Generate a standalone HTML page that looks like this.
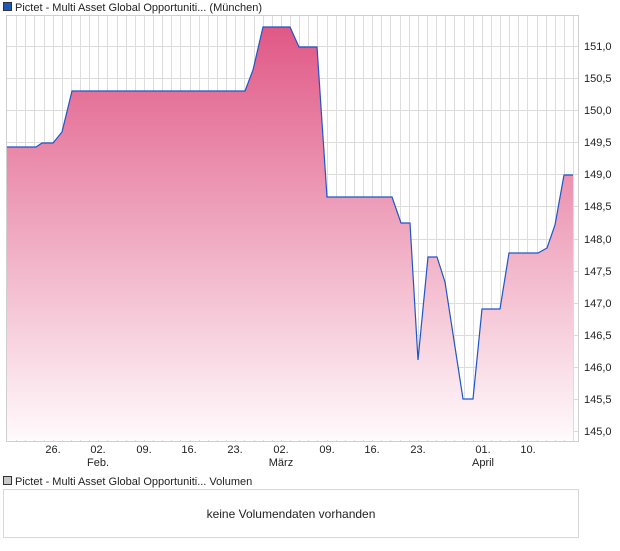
<!DOCTYPE html>
<html><head><meta charset="utf-8"><style>
body{margin:0;background:#fff;width:620px;height:546px;overflow:hidden;font-family:"Liberation Sans",sans-serif;}
</style></head><body>
<svg width="620" height="546" xmlns="http://www.w3.org/2000/svg" font-family="Liberation Sans, sans-serif">
<defs><linearGradient id="g" x1="0" y1="27" x2="0" y2="440" gradientUnits="userSpaceOnUse">
<stop offset="0" stop-color="#e05886"/><stop offset="1" stop-color="#fffafc"/></linearGradient></defs>
<rect x="3.5" y="2.5" width="8" height="8" fill="#1f56b8" stroke="#333" stroke-width="1"/>
<text x="15" y="11" font-size="11" fill="#222">Pictet - Multi Asset Global Opportuniti... (München)</text>
<g id="grid" stroke="#dcdcdc" stroke-width="1"></g>
<path d="M7,147 L36,147 L42,143 L53,143 L62,132 L72,91 L245,91 L253,70 L263,27 L290,27 L299,47 L317,47 L327,197 L392,197 L401,223 L410,223 L418,360 L428,257 L437,257 L445,282 L463,399 L473,399 L482,309 L500,309 L509,253 L538,253 L547,248 L555,225 L564,175 L573,175 L573,440 L7,440 Z" fill="url(#g)"/>
<path d="M7,147 L36,147 L42,143 L53,143 L62,132 L72,91 L245,91 L253,70 L263,27 L290,27 L299,47 L317,47 L327,197 L392,197 L401,223 L410,223 L418,360 L428,257 L437,257 L445,282 L463,399 L473,399 L482,309 L500,309 L509,253 L538,253 L547,248 L555,225 L564,175 L573,175" fill="none" stroke="#1f56c8" stroke-width="1.2"/>
<rect x="6.5" y="15.5" width="572" height="426" fill="none" stroke="#cfcfcf"/>
<g font-size="11" fill="#222">
<text x="584" y="50">151,0</text><text x="584" y="82">150,5</text><text x="584" y="114">150,0</text>
<text x="584" y="146">149,5</text><text x="584" y="178">149,0</text><text x="584" y="210">148,5</text>
<text x="584" y="243">148,0</text><text x="584" y="275">147,5</text><text x="584" y="307">147,0</text>
<text x="584" y="339">146,5</text><text x="584" y="371">146,0</text><text x="584" y="403">145,5</text>
<text x="584" y="435">145,0</text>
</g>
<g font-size="11" fill="#222" text-anchor="middle">
<text x="53" y="453">26.</text><text x="98" y="453">02.</text><text x="144" y="453">09.</text>
<text x="189" y="453">16.</text><text x="235" y="453">23.</text><text x="281" y="453">02.</text>
<text x="327" y="453">09.</text><text x="372" y="453">16.</text><text x="418" y="453">23.</text>
<text x="483" y="453">01.</text><text x="528" y="453">10.</text>
<text x="98" y="466">Feb.</text><text x="281" y="466">März</text><text x="483" y="466">April</text>
</g>
<rect x="3.5" y="476.5" width="8" height="8" fill="#c8c8c8" stroke="#333"/>
<text x="15" y="485" font-size="11" fill="#222">Pictet - Multi Asset Global Opportuniti... Volumen</text>
<rect x="3.5" y="489.5" width="575" height="48" fill="#fff" stroke="#d8d8d8"/>
<text x="291" y="518" font-size="12" fill="#222" text-anchor="middle">keine Volumendaten vorhanden</text>
</svg>
<script>
var g=document.getElementById('grid'),s='';
for(var k=1;k<63;k++){var x=Math.round(7+9.13*k)+0.5;if(x<578)s+='<line x1="'+x+'" y1="16" x2="'+x+'" y2="441"/>';}
for(var v=0;v<=12;v++){var y=Math.round(431-v*32.08)+0.5;s+='<line x1="7" y1="'+y+'" x2="578" y2="'+y+'"/>';}
g.innerHTML=s;
</script>
</body></html>
